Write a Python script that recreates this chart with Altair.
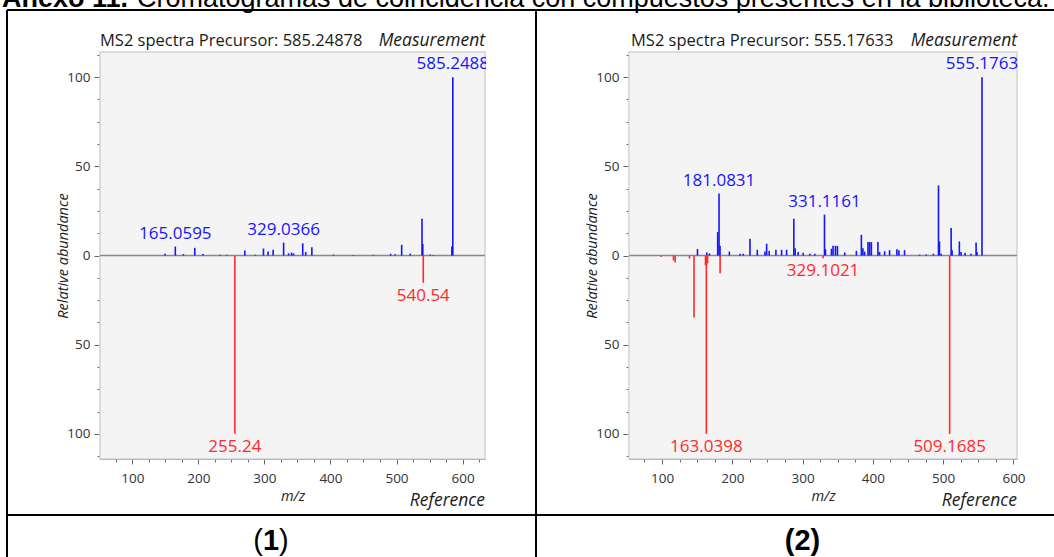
import altair as alt
import pandas as pd

# ---------------- data ----------------
CAPTION_BOLD = "Anexo 11."
CAPTION_TEXT = "Cromatogramas de coincidencia con compuestos presentes en la biblioteca."
CELL_LABELS = ["1", "2"]

# Panel 1
p1_title = "MS2 spectra Precursor: 585.24878"
p1_meas_mz = [149.5, 165.06, 177.3, 194.5, 207.0, 233.0, 243.0, 270.3, 286.0, 298.5,
              305.5, 313.2, 329.04, 336.5, 341.0, 344.0, 358.0, 362.5, 371.8, 404.5,
              434.8, 465.0, 491.0, 498.0, 507.8, 520.8, 538.6, 539.8, 551.0, 555.6,
              583.8, 585.25]
p1_meas_int = [1.0, 5.0, 0.8, 4.3, 0.8, 0.4, 0.4, 2.8, 0.4, 3.9,
               2.2, 3.2, 7.2, 1.2, 1.6, 1.2, 6.8, 2.0, 4.6, 0.5,
               0.3, 0.4, 1.0, 0.7, 6.0, 1.0, 20.6, 6.5, 0.5, 0.3,
               5.0, 100.0]
p1_ref_mz = [255.24, 540.54]
p1_ref_int = [100.0, 15.3]
p1_meas_lab = ["165.0595", "329.0366", "585.2488"]
p1_ref_lab = ["255.24", "540.54"]

# Panel 2
p2_title = "MS2 spectra Precursor: 555.17633"
p2_meas_mz = [150.4, 163.7, 167.4, 179.2, 181.08, 182.5, 195.8, 211.0, 215.6, 225.1,
              235.5, 246.4, 248.8, 252.5, 262.0, 270.1, 277.2, 287.5, 289.4, 293.6,
              300.8, 310.2, 317.4, 331.12, 332.5, 341.0, 343.3, 346.7, 349.5, 359.9,
              376.5, 383.6, 385.8, 388.2, 393.0, 395.4, 397.8, 407.1, 409.5, 416.7,
              423.7, 434.1, 437.0, 445.0, 466.2, 475.8, 486.1, 493.3, 494.7, 497.1,
              511.3, 512.7, 523.0, 525.4, 531.1, 539.6, 546.8, 548.1, 555.18]
p2_meas_int = [3.6, 1.7, 1.2, 13.1, 34.7, 5.4, 2.2, 1.0, 1.0, 9.4,
               3.2, 2.2, 6.6, 2.6, 3.2, 3.2, 3.2, 20.6, 4.1, 2.0,
               1.5, 1.0, 1.0, 22.9, 3.5, 3.8, 5.4, 5.4, 5.4, 1.7,
               2.6, 11.6, 4.0, 2.2, 7.5, 7.5, 7.5, 7.5, 2.0, 2.4,
               3.0, 3.5, 3.0, 3.0, 0.5, 0.5, 1.0, 39.3, 7.9, 1.0,
               15.4, 3.0, 7.9, 2.0, 1.5, 1.0, 7.3, 2.0, 100.0]
p2_ref_mz = [98.9, 116.3, 118.7, 139.0, 145.5, 161.8, 163.04, 164.8, 182.6, 329.10, 509.17]
p2_ref_int = [0.8, 2.8, 3.9, 1.7, 34.8, 5.5, 100.0, 4.5, 9.9, 1.5, 100.0]
p2_meas_lab = ["181.0831", "331.1161", "555.1763"]
p2_ref_lab = ["163.0398", "329.1021", "509.1685"]

X_MAJOR = [100, 200, 300, 400, 500, 600]
X_MINOR = list(range(75, 650, 25))
Y_MAJOR = [-100, -50, 0, 50, 100]
Y_MINOR = [-112.5 + 12.5 * i for i in range(19)]

# ---------------- layout / style ----------------
W, H = 1054, 557
Y_DOM = [-114.1, 114.1]
Y_RNG = [459, 52]
AX = "#666666"
BLUE = "#1515ff"
RED = "#ff2a2a"
FONT = "Open Sans"
ONE = pd.DataFrame({"d": [0]})


def nearest(mzs, ints, target):
    best = min(range(len(mzs)), key=lambda i: abs(mzs[i] - target))
    return ints[best]


def panel(meas_mz, meas_int, ref_mz, ref_int, meas_lab, ref_lab, xdom, xrng):
    xs = alt.Scale(domain=xdom, range=xrng, nice=False, zero=False)
    ys = alt.Scale(domain=Y_DOM, range=Y_RNG, nice=False, zero=False)
    frame = pd.DataFrame({"x0": [xdom[0]], "x1": [xdom[1]],
                          "y0": [Y_DOM[0]], "y1": [Y_DOM[1]], "z": [0.0]})
    xoff = -(H - Y_RNG[0])
    yoff = -xrng[0]
    major_x = alt.Axis(orient="bottom", offset=xoff, values=X_MAJOR, tickSize=5,
                       labelPadding=7, grid=False, domainColor=AX, tickColor=AX,
                       labelFlush=False, title="m/z",
                       titleX=(xrng[0] + xrng[1]) / 2, titleY=37, titleBaseline="middle")
    minor_x = alt.Axis(orient="bottom", offset=xoff,
                       values=[v for v in X_MINOR if xdom[0] <= v <= xdom[1]],
                       tickSize=3, labels=False, domain=False, grid=False,
                       title=None, tickColor=AX)
    major_y = alt.Axis(orient="left", offset=yoff, values=Y_MAJOR,
                       labelExpr="format(abs(datum.value), 'd')", tickSize=6,
                       labelPadding=4, grid=False, domainColor=AX, tickColor=AX,
                       title="Relative abundance", titleX=-30,
                       titleY=(Y_RNG[0] + Y_RNG[1]) / 2, titleBaseline="bottom")
    minor_y = alt.Axis(orient="left", offset=yoff, values=Y_MINOR, tickSize=3,
                       labels=False, domain=False, grid=False, title=None, tickColor=AX)

    bg = alt.Chart(frame).mark_rect(fill="#f4f4f4", stroke="#d2d2d2", strokeWidth=1.5).encode(
        x=alt.X("x0:Q", scale=xs, axis=major_x), x2="x1",
        y=alt.Y("y0:Q", scale=ys, axis=major_y), y2="y1")
    zero = alt.Chart(frame).mark_rule(color="#8a8a8a", strokeWidth=1.5).encode(
        x=alt.X("x0:Q", scale=xs, axis=minor_x), x2="x1",
        y=alt.Y("z:Q", scale=ys, axis=minor_y))

    meas = pd.DataFrame({"mz": meas_mz, "val": meas_int, "base": 0.0})
    ref = pd.DataFrame({"mz": ref_mz, "val": [-v for v in ref_int], "base": 0.0})
    mrules = alt.Chart(meas).mark_rule(color=BLUE, strokeWidth=1.6).encode(
        x=alt.X("mz:Q", scale=xs, axis=None),
        y=alt.Y("base:Q", scale=ys, axis=None), y2="val")
    rrules = alt.Chart(ref).mark_rule(color=RED, strokeWidth=1.6).encode(
        x=alt.X("mz:Q", scale=xs, axis=None),
        y=alt.Y("base:Q", scale=ys, axis=None), y2="val")

    mlab = pd.DataFrame({"mz": [float(t) for t in meas_lab],
                         "val": [nearest(meas_mz, meas_int, float(t)) for t in meas_lab],
                         "txt": meas_lab})
    rlab = pd.DataFrame({"mz": [float(t) for t in ref_lab],
                         "val": [-nearest(ref_mz, ref_int, float(t)) for t in ref_lab],
                         "txt": ref_lab})
    mtext = alt.Chart(mlab).mark_text(color=BLUE, font=FONT, fontSize=17,
                                      baseline="bottom", dy=-4).encode(
        x=alt.X("mz:Q", scale=xs, axis=None),
        y=alt.Y("val:Q", scale=ys, axis=None), text="txt:N")
    rtext = alt.Chart(rlab).mark_text(color=RED, font=FONT, fontSize=17,
                                      baseline="top", dy=5).encode(
        x=alt.X("mz:Q", scale=xs, axis=None),
        y=alt.Y("val:Q", scale=ys, axis=None), text="txt:N")

    return alt.layer(bg, zero, mrules, rrules, mtext, rtext).resolve_axis(
        x="independent", y="independent")


def txt(s, x, y, size, align="left", style="normal", weight="normal",
        font=FONT, color="#1a1a1a", baseline="alphabetic"):
    return alt.Chart(ONE).mark_text(font=font, fontSize=size, align=align,
                                    fontStyle=style, fontWeight=weight,
                                    color=color, baseline=baseline).encode(
        x=alt.value(x), y=alt.value(y), text=alt.value(s))


def hline(x1, x2, y):
    return alt.Chart(ONE).mark_rule(color="black", strokeWidth=2).encode(
        x=alt.value(x1), x2=alt.value(x2), y=alt.value(y))


def vline(x, y1, y2):
    return alt.Chart(ONE).mark_rule(color="black", strokeWidth=2).encode(
        x=alt.value(x), y=alt.value(y1), y2=alt.value(y2))


def mask(x1, x2, y1, y2):
    return alt.Chart(ONE).mark_rect(color="white").encode(
        x=alt.value(x1), x2=alt.value(x2), y=alt.value(y1), y2=alt.value(y2))


p1 = panel(p1_meas_mz, p1_meas_int, p1_ref_mz, p1_ref_int, p1_meas_lab, p1_ref_lab,
           [51, 634], [100, 485])
p2 = panel(p2_meas_mz, p2_meas_int, p2_ref_mz, p2_ref_int, p2_meas_lab, p2_ref_lab,
           [53, 605], [629, 1017])

layers = [
    hline(7, W, 10), hline(7, W, 515), vline(7, 10, H), vline(536, 10, H),
    txt(CAPTION_BOLD, 2, 7, 27, weight="bold", font="Liberation Sans", color="black"),
    txt(CAPTION_TEXT, 137, 7, 27, font="Liberation Sans", color="black"),
    p1, p2,
    mask(486, 534, 52, 78), mask(1018.5, W, 52, 78),
    txt(p1_title, 100, 46, 16.5), txt("Measurement", 485, 46, 17.5, align="right", style="italic"),
    txt("Reference", 485, 506, 17.5, align="right", style="italic"),
    txt(p2_title, 631, 46, 16.5), txt("Measurement", 1017, 46, 17.5, align="right", style="italic"),
    txt("Reference", 1017, 506, 17.5, align="right", style="italic"),
    txt("(", 253.3, 550, 29, font="Liberation Sans", color="black"),
    txt(CELL_LABELS[0], 263.0, 550, 29, weight="bold", font="Liberation Sans", color="black"),
    txt(")", 279.1, 550, 29, font="Liberation Sans", color="black"),
    txt("(" + CELL_LABELS[1] + ")", 802.5, 550, 29, align="center", weight="bold",
        font="Liberation Sans", color="black"),
]

chart = alt.layer(*layers).resolve_scale(x="independent", y="independent").properties(
    width=W, height=H, autosize=alt.AutoSizeParams(type="none"), padding=0,
    background="white",
).configure_view(strokeWidth=0).configure_axis(
    labelFont=FONT, labelFontSize=13.5, labelColor="#333333",
    titleFont=FONT, titleFontSize=14.5, titleFontStyle="italic",
    titleFontWeight="normal", titleColor="#222222",
)

chart.save("out.html", embed_options={"renderer": "svg", "actions": False})
